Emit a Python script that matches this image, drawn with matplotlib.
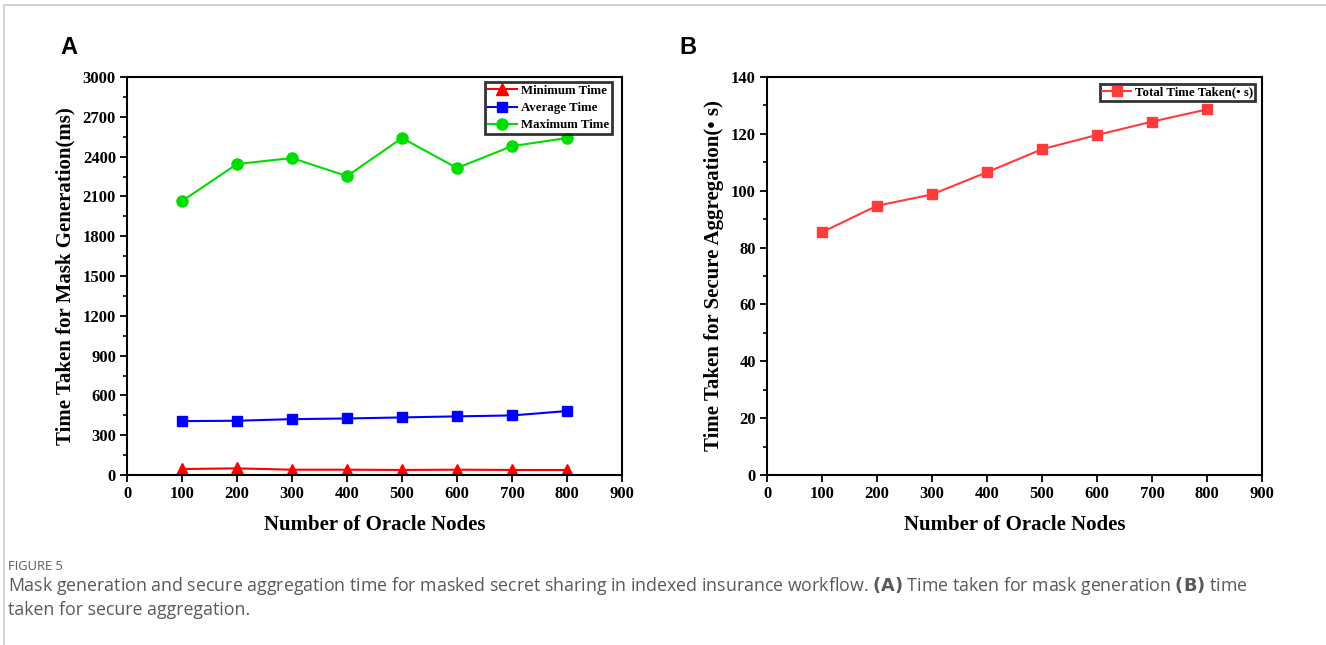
import matplotlib
matplotlib.use("Agg")
import matplotlib.pyplot as plt
from matplotlib.lines import Line2D
from matplotlib.ticker import MultipleLocator

nodes = [100, 200, 300, 400, 500, 600, 700, 800]
min_time = [45, 50, 40, 40, 38, 40, 38, 38]
avg_time = [406, 409, 421, 426, 434, 442, 449, 482]
max_time = [2065, 2344, 2389, 2253, 2540, 2314, 2479, 2540]
agg_time = [85.4, 94.7, 98.7, 106.5, 114.6, 119.6, 124.3, 128.6]

serif = "Liberation Serif"
W, H = 1326, 645
fig = plt.figure(figsize=(W / 100, H / 100), dpi=100)

def style_axes(ax, ymax, ystep, yminor):
    ax.set_xlim(0, 900)
    ax.set_ylim(0, ymax)
    ax.xaxis.set_major_locator(MultipleLocator(100))
    ax.yaxis.set_major_locator(MultipleLocator(ystep))
    ax.yaxis.set_minor_locator(MultipleLocator(yminor))
    ax.tick_params(axis="both", which="major", direction="out", length=5, width=1.3,
                   labelsize=12, pad=3)
    ax.tick_params(axis="y", which="minor", direction="out", length=3, width=1.2)
    for lab in ax.get_xticklabels() + ax.get_yticklabels():
        lab.set_fontfamily(serif)
        lab.set_fontweight("bold")
    for sp in ax.spines.values():
        sp.set_linewidth(1.5)

axA = fig.add_axes([127 / W, 1 - 475 / H, 495 / W, 398 / H])
axA.plot(nodes, min_time, color="#ff0000", marker="^", markersize=8.5, linewidth=1.5,
         label="Minimum Time")
axA.plot(nodes, avg_time, color="#0000ff", marker="s", markersize=7.5, linewidth=1.5,
         label="Average Time")
axA.plot(nodes, max_time, color="#00dd00", marker="o", markersize=8, linewidth=1.5,
         label="Maximum Time")
style_axes(axA, 3000, 300, 150)
axA.set_xlabel("Number of Oracle Nodes", fontfamily=serif, fontweight="bold",
               fontsize=15, labelpad=9)
axA.set_ylabel("Time Taken for Mask Generation(ms)", fontfamily=serif, fontweight="bold",
               fontsize=15, labelpad=5)
legA = axA.legend(loc="upper right", bbox_to_anchor=(0.985, 0.995), frameon=True,
                  fancybox=False, edgecolor="black", prop={"family": serif, "weight": "bold", "size": 9.3},
                  handlelength=2.2, handletextpad=0.3, borderpad=0.25, labelspacing=0.4,
                  borderaxespad=0.2)
legA.get_frame().set_linewidth(2)

axB = fig.add_axes([767 / W, 1 - 475 / H, 495 / W, 398 / H])
axB.plot(nodes, agg_time, color="#ff3b3b", marker="s", markersize=7.5, linewidth=1.5,
         label="Total Time Taken(• s)")
style_axes(axB, 140, 20, 10)
axB.set_xlabel("Number of Oracle Nodes", fontfamily=serif, fontweight="bold",
               fontsize=15, labelpad=9)
axB.set_ylabel("Time Taken for Secure Aggregation(• s)", fontfamily=serif, fontweight="bold",
               fontsize=15, labelpad=5)
legB = axB.legend(loc="upper right", bbox_to_anchor=(0.992, 0.99), frameon=True,
                  fancybox=False, edgecolor="black", prop={"family": serif, "weight": "bold", "size": 9.3},
                  handlelength=2.2, handletextpad=0.3, borderpad=0.2, borderaxespad=0.2)
legB.get_frame().set_linewidth(2)

fig.text(60 / W, 1 - 47 / H, "A", fontfamily="Liberation Sans", fontweight="bold",
         fontsize=17, va="center", ha="left")
fig.text(679 / W, 1 - 47 / H, "B", fontfamily="Liberation Sans", fontweight="bold",
         fontsize=17, va="center", ha="left")

cap_color = "#5a5a5a"
fig.text(8 / W, 1 - 567 / H, "FIGURE 5", fontfamily="Open Sans", fontsize=9.3,
         color=cap_color, va="center", ha="left")
fig.text(8 / W, 1 - 586 / H,
         "Mask generation and secure aggregation time for masked secret sharing in indexed insurance workflow. "
         r"$\bf{(A)}$ Time taken for mask generation $\bf{(B)}$ time",
         fontfamily="Open Sans", fontsize=12.8, color=cap_color, va="center", ha="left")
fig.text(8 / W, 1 - 610 / H, "taken for secure aggregation.",
         fontfamily="Open Sans", fontsize=12.8, color=cap_color, va="center", ha="left")

fig.add_artist(Line2D([4 / W, 1], [1 - 5 / H, 1 - 5 / H], transform=fig.transFigure,
                      color="#cccccc", linewidth=1.2))
fig.add_artist(Line2D([4 / W, 4 / W], [0, 1 - 5 / H], transform=fig.transFigure,
                      color="#cccccc", linewidth=1.2))

fig.savefig("out.png", dpi=100)
